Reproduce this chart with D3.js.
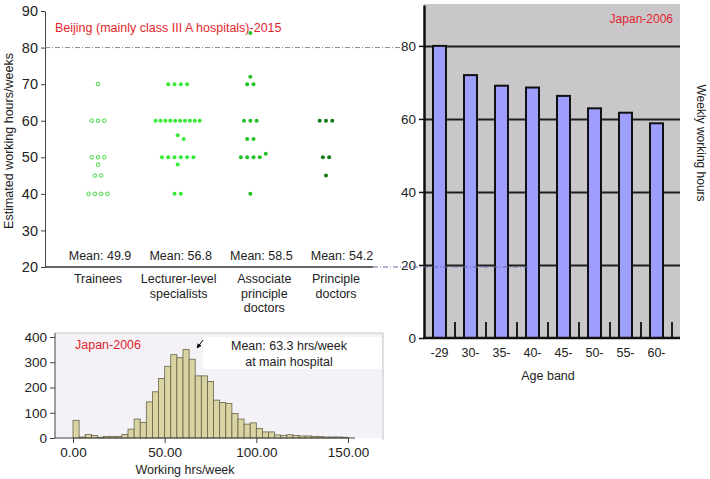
<!DOCTYPE html>
<html>
<head>
<meta charset="utf-8">
<script src="https://cdn.jsdelivr.net/npm/d3@7"></script>
<style>
  body { margin: 0; background: #fff; }
  svg { font-family: "Liberation Sans", Arial, Helvetica, sans-serif; display: block; }
  .axis path, .axis line { stroke: #444; }
  .axis text { fill: #222; }
</style>
</head>
<body>
<svg id="chart" width="710" height="479"></svg>
<script>
// ---- Beijing 2015 (dot plot) ----
const beijingGroups = ["Trainees", "Lecturer", "Associate", "Principle"];
const beijingLabelLines = [
  ["Trainees"],
  ["Lecturer-level", "specialists"],
  ["Associate", "principle", "doctors"],
  ["Principle", "doctors"]
];
const beijingMeans = [49.9, 56.8, 58.5, 54.2];
const traineeHours = [70, 60, 60, 60, 50, 50, 50, 48, 45, 45, 40, 40, 40, 40];
const lecturerHours = [70, 70, 70, 70, 60, 60, 60, 60, 60, 60, 60, 60, 60, 60, 56, 55, 50, 50, 50, 50, 50, 50, 48, 40, 40];
const associateHours = [84, 72, 70, 70, 60, 60, 60, 55, 55, 51, 50, 50, 50, 50, 40];
const principleHours = [60, 60, 60, 50, 50, 45];
const beijingTicks = [20, 30, 40, 50, 60, 70, 80, 90];

// ---- Japan 2006 by age band ----
const ageBands = ["-29", "30-", "35-", "40-", "45-", "50-", "55-", "60-"];
const weeklyHours = [80, 72, 69.1, 68.6, 66.3, 62.9, 61.7, 58.8];
const ageTicks = [0, 20, 40, 60, 80];

// ---- Japan 2006 histogram ----
const histBinWidth = 10 / 3;
const histCounts = [70, 4, 14, 10, 3, 6, 6, 6, 14, 35, 75, 62, 143, 183, 236, 284, 330, 318, 351, 312,
  246, 246, 224, 150, 141, 137, 97, 75, 55, 60, 38, 24, 24, 12, 10, 13, 10, 8, 8, 6, 6, 4, 4, 4, 3];
const histXTicks = [0, 50, 100, 150];
const histYTicks = [0, 100, 200, 300, 400];

const svg = d3.select("#chart");
const red = "#e3262e";

// ================= Beijing panel =================
const yB = d3.scaleLinear().domain([20, 90]).range([267, 11]);
const xB = d3.scalePoint().domain(beijingGroups).range([98, 340]);
const dotNudge = [0, -1, -9, -14];   // dot columns sit a little left of their labels
const dotStyles = [
  { fill: "#fff", stroke: "#3bdc3b" },
  { fill: "#36ea36", stroke: "none" },
  { fill: "#22c022", stroke: "none" },
  { fill: "#137a13", stroke: "none" }
];

const gB = svg.append("g");

gB.append("g")
  .attr("class", "axis")
  .attr("transform", "translate(45,0)")
  .call(d3.axisLeft(yB).tickValues(beijingTicks).tickSize(4).tickSizeOuter(0).tickPadding(3))
  .call(g => g.selectAll("text").attr("font-size", 14.5));

gB.append("line")
  .attr("x1", 45).attr("x2", 373)
  .attr("y1", yB(20)).attr("y2", yB(20))
  .attr("stroke", "#333").attr("stroke-width", 1.6);

// 80 hours reference line, running across to the Japan panel
gB.append("line")
  .attr("x1", 45).attr("x2", 403)
  .attr("y1", yB(80)).attr("y2", yB(80))
  .attr("stroke", "#8a8a8a").attr("stroke-width", 1)
  .attr("stroke-dasharray", "5,2,1,2");

gB.append("text")
  .attr("transform", `translate(13,${(yB(20) + yB(90)) / 2 + 2}) rotate(-90)`)
  .attr("text-anchor", "middle")
  .attr("font-size", 12.5).attr("fill", "#222")
  .text("Estimated working hours/weeks");

gB.append("text")
  .attr("x", 55).attr("y", 32)
  .attr("font-size", 12.5).attr("fill", red)
  .text("Beijing (mainly class III A hospitals)-2015");

function dotLayout(values, cx) {
  const rows = d3.rollups(values, v => v.length, d => d)
    .sort((a, b) => b[1] - a[1]);
  const placed = [];
  const out = [];
  rows.forEach(([v, n]) => {
    const gap = n > 1 ? Math.min(6.3, 44 / (n - 1)) : 6;
    let start = cx - gap * (n - 1) / 2;
    const near = placed.find(p => Math.abs(p.v - v) <= 1.5);
    if (near) start = near.end + 6;
    for (let i = 0; i < n; i++) out.push({ v, x: start + i * gap });
    placed.push({ v, end: start + gap * (n - 1) });
  });
  return out;
}

[traineeHours, lecturerHours, associateHours, principleHours].forEach((vals, i) => {
  const cx = xB(beijingGroups[i]) + dotNudge[i];
  gB.append("g").selectAll("circle")
    .data(dotLayout(vals, cx))
    .join("circle")
    .attr("cx", d => d.x)
    .attr("cy", d => yB(d.v))
    .attr("r", i === 0 ? 1.8 : 2)
    .attr("fill", dotStyles[i].fill)
    .attr("stroke", dotStyles[i].stroke)
    .attr("stroke-width", 1);
});

gB.selectAll(".mean")
  .data(beijingMeans)
  .join("text")
  .attr("x", (d, i) => xB(beijingGroups[i]) + 2)
  .attr("y", 260)
  .attr("text-anchor", "middle")
  .attr("font-size", 12.5).attr("fill", "#222")
  .text(d => "Mean: " + d.toFixed(1));

beijingLabelLines.forEach((lines, i) => {
  const t = gB.append("text")
    .attr("text-anchor", "middle")
    .attr("font-size", 12.5).attr("fill", "#222");
  lines.forEach((s, j) => {
    t.append("tspan")
      .attr("x", xB(beijingGroups[i]) + (i === 2 ? 5 : 0) - (i === 3 ? 4 : 0))
      .attr("y", 283 + j * 14.5)
      .text(s);
  });
});

// ================= Japan age-band panel =================
const yJ = d3.scaleLinear().domain([0, 91.2]).range([338, 5]);
const xJ = d3.scaleBand().domain(ageBands).range([424, 672]);
const gJ = svg.append("g");

gJ.append("rect")
  .attr("x", 424).attr("y", yJ(91.2) - 1)
  .attr("width", 256).attr("height", yJ(0) - yJ(91.2) + 1)
  .attr("fill", "#c9c7ca");

gJ.append("g")
  .attr("transform", "translate(424,0)")
  .call(d3.axisLeft(yJ).tickValues(ageTicks.slice(1)).tickSize(-256).tickFormat(""))
  .call(g => g.select(".domain").remove())
  .call(g => g.selectAll("line").attr("stroke", "#1e1e1e").attr("stroke-width", 2));

// band separator ticks on the bottom axis
gJ.append("g").selectAll("line")
  .data(ageBands)
  .join("line")
  .attr("x1", d => xJ(d) + xJ.bandwidth())
  .attr("x2", d => xJ(d) + xJ.bandwidth())
  .attr("y1", yJ(0) - 16).attr("y2", yJ(0))
  .attr("stroke", "#1e1e1e").attr("stroke-width", 2);

const barW = 13;
gJ.append("g").selectAll("rect")
  .data(weeklyHours)
  .join("rect")
  .attr("x", (d, i) => xJ(ageBands[i]) + (xJ.bandwidth() - barW) / 2)
  .attr("y", d => yJ(d))
  .attr("width", barW)
  .attr("height", d => yJ(0) - yJ(d))
  .attr("fill", "#9e9efc")
  .attr("stroke", "#111").attr("stroke-width", 2);

gJ.append("g")
  .attr("transform", "translate(424,0)")
  .call(d3.axisLeft(yJ).tickValues(ageTicks).tickSize(5).tickSizeOuter(0).tickPadding(3))
  .call(g => g.select(".domain").attr("stroke", "#111").attr("stroke-width", 2.5))
  .call(g => g.selectAll("line").attr("stroke", "#111").attr("stroke-width", 1.5))
  .call(g => g.selectAll("text").attr("font-size", 13.5).attr("fill", "#222"));

gJ.append("line")
  .attr("x1", 423).attr("x2", 680)
  .attr("y1", yJ(0)).attr("y2", yJ(0))
  .attr("stroke", "#111").attr("stroke-width", 2.5);

gJ.append("g")
  .attr("transform", `translate(0,${yJ(0)})`)
  .call(d3.axisBottom(xJ).tickSize(0).tickPadding(10))
  .call(g => g.select(".domain").remove())
  .call(g => g.selectAll("text").attr("font-size", 12.5).attr("fill", "#222"));

gJ.append("text")
  .attr("x", 548).attr("y", 380)
  .attr("text-anchor", "middle")
  .attr("font-size", 12.5).attr("fill", "#222")
  .text("Age band");

gJ.append("text")
  .attr("transform", "translate(697,143) rotate(90)")
  .attr("text-anchor", "middle")
  .attr("font-size", 12).attr("fill", "#222")
  .text("Weekly working hours");

gJ.append("text")
  .attr("x", 673).attr("y", 23)
  .attr("text-anchor", "end")
  .attr("font-size", 12).attr("fill", red)
  .text("Japan-2006");

// 20 hours reference line from the Beijing axis into the Japan panel
gJ.append("line")
  .attr("x1", 373).attr("x2", 530)
  .attr("y1", yJ(20) + 2).attr("y2", yJ(20) + 2)
  .attr("stroke", "#5d6cab").attr("stroke-width", 1)
  .attr("stroke-dasharray", "5,2,1,2");

// ================= Japan histogram panel =================
const xH = d3.scaleLinear().domain([0, 150]).range([73, 348]);
const yH = d3.scaleLinear().domain([0, 400]).range([438, 337]);
const gH = svg.append("g");

gH.append("rect")
  .attr("x", 55).attr("y", 333)
  .attr("width", 328).attr("height", 105)
  .attr("fill", "#f4f2f7");
gH.append("path")
  .attr("d", "M55,333H383V440")
  .attr("fill", "none").attr("stroke", "#c4c4c4").attr("stroke-width", 1);

gH.append("rect")
  .attr("x", 203).attr("y", 337)
  .attr("width", 179).attr("height", 32)
  .attr("fill", "#fff");

gH.append("g").selectAll("rect")
  .data(histCounts)
  .join("rect")
  .attr("x", (d, i) => xH(i * histBinWidth))
  .attr("y", d => yH(d))
  .attr("width", (d, i) => xH((i + 1) * histBinWidth) - xH(i * histBinWidth))
  .attr("height", d => yH(0) - yH(d))
  .attr("fill", "#d9d4a2")
  .attr("stroke", "#66644c").attr("stroke-width", 0.8);

gH.append("g")
  .attr("class", "axis")
  .attr("transform", "translate(55,0)")
  .call(d3.axisLeft(yH).tickValues(histYTicks).tickSize(5).tickSizeOuter(0).tickPadding(3))
  .call(g => g.select(".domain").attr("d", "M0,333V438").attr("stroke", "#777"))
  .call(g => g.selectAll("line").attr("stroke", "#777"))
  .call(g => g.selectAll("text").attr("font-size", 13.5));

gH.append("g")
  .attr("class", "axis")
  .attr("transform", `translate(0,${yH(0)})`)
  .call(d3.axisBottom(xH).tickValues(histXTicks).tickFormat(d3.format(".2f")).tickSize(5).tickSizeOuter(0).tickPadding(4))
  .call(g => g.select(".domain").attr("d", "M55,0H355").attr("stroke", "#777"))
  .call(g => g.selectAll("line").attr("stroke", "#777"))
  .call(g => g.selectAll("text").attr("font-size", 13.5));

gH.append("text")
  .attr("x", 185).attr("y", 474)
  .attr("text-anchor", "middle")
  .attr("font-size", 12.5).attr("fill", "#222")
  .text("Working hrs/week");

gH.append("text")
  .attr("x", 75).attr("y", 349)
  .attr("font-size", 12.5).attr("fill", red)
  .text("Japan-2006");

const note = gH.append("text")
  .attr("text-anchor", "middle")
  .attr("font-size", 12.5).attr("fill", "#222");
note.append("tspan").attr("x", 289).attr("y", 350).text("Mean: 63.3 hrs/week");
note.append("tspan").attr("x", 289).attr("y", 366).text("at main hospital");

svg.append("defs").append("marker")
  .attr("id", "arrow")
  .attr("viewBox", "0 0 10 10")
  .attr("refX", 9).attr("refY", 5)
  .attr("markerWidth", 5).attr("markerHeight", 5)
  .attr("orient", "auto")
  .append("path").attr("d", "M0,0L10,5L0,10Z").attr("fill", "#111");

gH.append("line")
  .attr("x1", 203).attr("y1", 340)
  .attr("x2", 197).attr("y2", 348)
  .attr("stroke", "#111").attr("stroke-width", 1)
  .attr("marker-end", "url(#arrow)");
</script>
</body>
</html>
